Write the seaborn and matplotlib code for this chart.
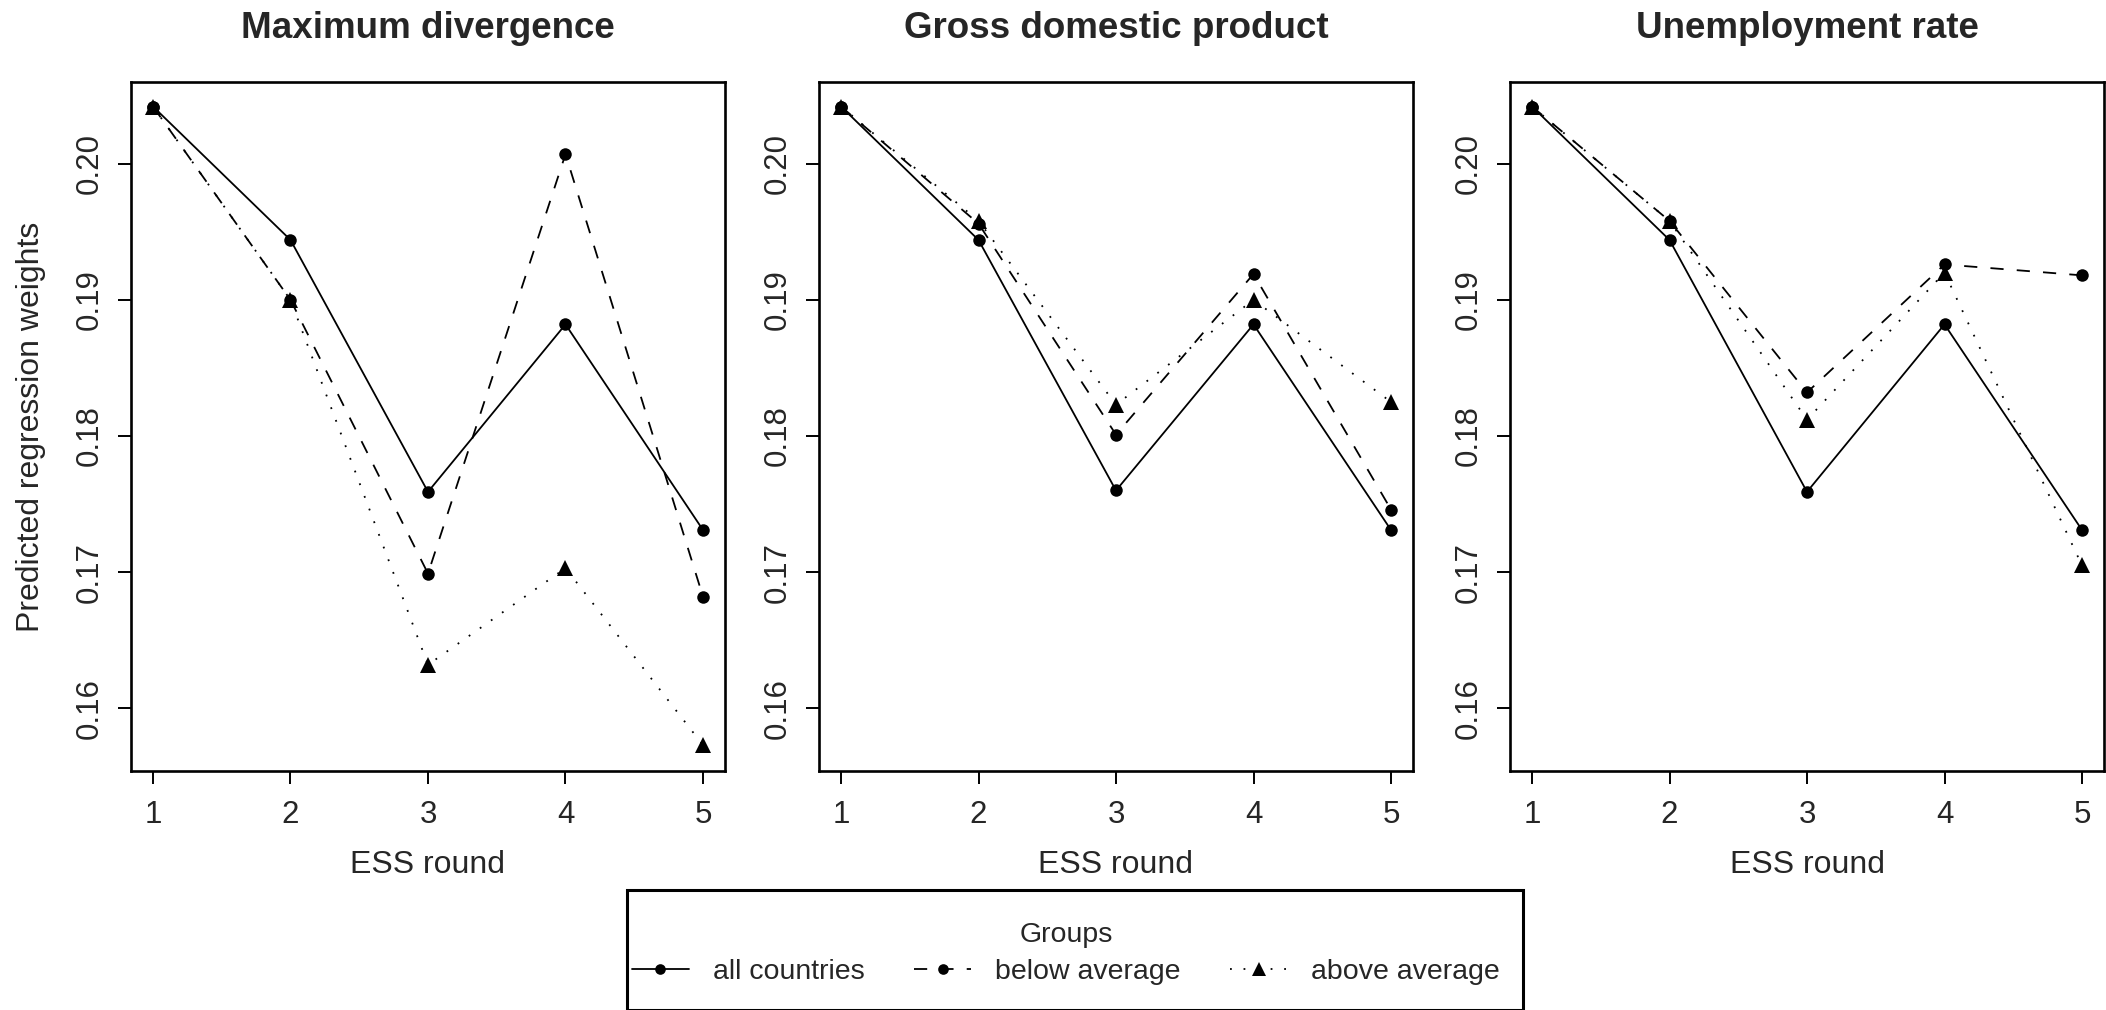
import pandas as pd
import numpy as np
import matplotlib
matplotlib.use("Agg")
import matplotlib.pyplot as plt
from matplotlib.lines import Line2D
from matplotlib.patches import Rectangle
import seaborn as sns

# values
rounds = [1, 2, 3, 4, 5]
groups = ["all countries", "below average", "above average"]
panel_titles = ["Maximum divergence", "Gross domestic product", "Unemployment rate"]

maxdiv_all = [0.2042, 0.1944, 0.1759, 0.1882, 0.1731]
maxdiv_below = [0.2042, 0.1900, 0.1699, 0.2007, 0.1682]
maxdiv_above = [0.2042, 0.1900, 0.1632, 0.1703, 0.1573]

gdp_all = [0.2042, 0.1944, 0.1760, 0.1882, 0.1731]
gdp_below = [0.2042, 0.1956, 0.1801, 0.1919, 0.1746]
gdp_above = [0.2042, 0.1958, 0.1823, 0.1900, 0.1825]

unemp_all = [0.2042, 0.1944, 0.1759, 0.1882, 0.1731]
unemp_below = [0.2042, 0.1958, 0.1832, 0.1926, 0.1918]
unemp_above = [0.2042, 0.1958, 0.1812, 0.1920, 0.1705]

y_ticks = [0.16, 0.17, 0.18, 0.19, 0.20]
y_tick_labels = ["0.16", "0.17", "0.18", "0.19", "0.20"]

series = {
    "Maximum divergence": [maxdiv_all, maxdiv_below, maxdiv_above],
    "Gross domestic product": [gdp_all, gdp_below, gdp_above],
    "Unemployment rate": [unemp_all, unemp_below, unemp_above],
}

rows = []
for title, vals in series.items():
    for grp, ys in zip(groups, vals):
        for r, y in zip(rounds, ys):
            rows.append({"panel": title, "round": r, "group": grp, "weight": y})
df = pd.DataFrame(rows)

sns.set_style("ticks")
plt.rcParams["font.family"] = ["Liberation Sans", "DejaVu Sans"]

markers = {"all countries": "o", "below average": "o", "above average": "^"}
dashes = {"all countries": "", "below average": (7.3, 7.3), "above average": (1, 6.5)}
msize = {"o": 9, "^": 11.5}

fig = plt.figure(figsize=(21.06, 10.10), dpi=100)
W, H = 2106, 1010
lefts = [131, 819, 1510]
top_px, bottom_px, width_px = 82, 771, 594

for i, title in enumerate(panel_titles):
    ax = fig.add_axes([lefts[i] / W, 1 - bottom_px / H, width_px / W, (bottom_px - top_px) / H])
    sub = df[df["panel"] == title]
    sns.lineplot(
        data=sub, x="round", y="weight", style="group", style_order=groups,
        markers=markers, dashes=dashes, color="black", linewidth=1.3,
        markeredgewidth=0, ax=ax, legend=False,
    )
    for ln in ax.lines:
        m = ln.get_marker()
        if m in msize:
            ln.set_markersize(msize[m])

    ax.set_xlim(0.84, 5.16)
    ax.set_ylim(0.1554, 0.2060)
    ax.set_xticks(rounds)
    ax.set_xticklabels([str(r) for r in rounds])
    ax.set_yticks(y_ticks)
    ax.set_yticklabels(y_tick_labels, rotation=90, va="center")
    ax.tick_params(axis="both", length=9.4, width=1.4, labelsize=22.5, color="black")
    ax.tick_params(axis="x", pad=11.5)
    ax.tick_params(axis="y", pad=9.5)
    for sp in ax.spines.values():
        sp.set_visible(True)
        sp.set_linewidth(1.9)
        sp.set_color("black")

    ax.set_title(title, fontsize=26.5, fontweight="bold", pad=31.5)
    ax.set_xlabel("ESS round", fontsize=23)
    ax.xaxis.set_label_coords(0.5, -0.114)
    if i == 0:
        ax.set_ylabel("Predicted regression weights", fontsize=23)
        ax.yaxis.set_label_coords(-0.143, 0.5)
    else:
        ax.set_ylabel("")

# legend under the panels
handles = [
    Line2D([0], [0], color="black", lw=1.3, linestyle=(0, dashes[g]) if dashes[g] else "-",
           marker=markers[g], markersize=msize[markers[g]] * 0.85, markeredgewidth=0)
    for g in groups
]
frame = Rectangle((627 / W, 0), (1523 - 627) / W, 1 - 910 / H + 0.02,
                  transform=fig.transFigure, fill=False, edgecolor="black", linewidth=2.2)
fig.patches.append(frame)

leg = fig.legend(
    handles, groups, title="Groups", ncol=3, loc="upper left", mode="expand",
    bbox_to_anchor=(622 / W, 0, (1510 - 622) / W, 1 - 912 / H), borderaxespad=0,
    frameon=False, fontsize=20.5, title_fontsize=20.5, handlelength=2.0,
    handletextpad=0.85, borderpad=0.35, labelspacing=0.4,
)

fig.savefig("out.png", dpi=100)
